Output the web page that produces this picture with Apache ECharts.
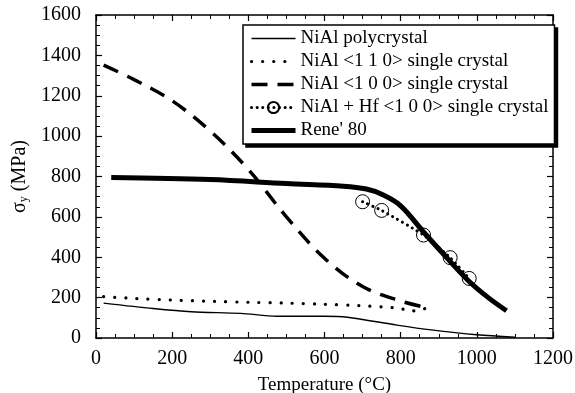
<!DOCTYPE html>
<html>
<head>
<meta charset="utf-8">
<script src="https://cdn.jsdelivr.net/npm/echarts@6/dist/echarts.min.js"></script>
<style>
  html, body { margin: 0; padding: 0; background: #fff; }
  #chart { width: 575px; height: 393px; }
</style>
</head>
<body>
<div id="chart"></div>
<script>
// Yield strength vs temperature: NiAl variants compared with Rene' 80
const seriesNames = [
  'NiAl polycrystal',
  'NiAl <1 1 0> single crystal',
  'NiAl <1 0 0> single crystal',
  'NiAl + Hf <1 0 0> single crystal',
  "Rene' 80"
];

// [temperature °C, yield stress MPa]
const polycrystal = [[20,173],[150,146],[250,130],[380,122],[475,108],[600,108],[660,103],[790,64],[880,40],[1000,16],[1100,4]];
const crystal110 = [[20,205],[100,196],[200,188],[300,182],[400,177],[500,173],[600,167],[700,160],[780,150],[830,136],[845,132],[870,152]];
const crystal100 = [[20,1352],[100,1280],[200,1175],[300,1025],[400,835],[500,600],[600,395],[700,255],[800,183],[870,150]];
const hfCrystal100 = [[700,675],[750,632],[860,510],[930,398],[980,295]];
const rene80 = [[40,795],[300,785],[500,765],[650,752],[710,738],[750,712],[800,655],[860,525],[920,400],[980,280],[1030,200],[1078,135]];

const xTicks = { min: 0, max: 1200, interval: 200 };
const yTicks = { min: 0, max: 1600, interval: 200 };

const serif = 'Liberation Serif';
const plain = v => String(v);
// legend markers hidden for series drawn without point symbols
const noMarker = { color: 'rgba(0,0,0,0)', borderWidth: 0 };

const styles = [
  { color: '#000', width: 1.4 },
  { color: '#000', width: 3.2, type: [0.1, 11], cap: 'round' },
  { color: '#000', width: 3.5, type: [16, 10] },
  { color: '#000', width: 3, type: [0.1, 5.5], cap: 'round' },
  { color: '#000', width: 5 }
];

function frameAxis(extra) {
  return Object.assign({
    type: 'value',
    axisLine: { show: true, onZero: false, lineStyle: { color: '#000', width: 1.5 } },
    axisTick: { show: true, inside: true, length: 6, lineStyle: { color: '#000', width: 1.2 } },
    minorTick: { show: true, splitNumber: 4, length: 4, lineStyle: { color: '#000', width: 1 } },
    splitLine: { show: false },
    minorSplitLine: { show: false }
  }, extra);
}

const chart = echarts.init(document.getElementById('chart'), null, { renderer: 'canvas' });

chart.setOption({
  animation: false,
  backgroundColor: '#fff',
  grid: { left: 96, right: 22, top: 15, bottom: 55, containLabel: false, outerBoundsMode: 'none' },
  xAxis: [
    frameAxis({
      position: 'bottom',
      min: xTicks.min, max: xTicks.max, interval: xTicks.interval,
      name: 'Temperature (°C)',
      nameLocation: 'middle',
      nameGap: 38,
      nameTextStyle: { fontFamily: serif, fontSize: 19, color: '#000' },
      axisLabel: { fontFamily: serif, fontSize: 20, color: '#000', margin: 11, formatter: plain }
    }),
    frameAxis({
      position: 'top',
      min: xTicks.min, max: xTicks.max, interval: xTicks.interval,
      axisLabel: { show: false }
    })
  ],
  yAxis: [
    frameAxis({
      position: 'left',
      min: yTicks.min, max: yTicks.max, interval: yTicks.interval,
      name: '{s|σ}{sub|y}{s| (MPa)}',
      nameLocation: 'middle',
      nameGap: 66,
      nameRotate: 90,
      nameTextStyle: {
        fontFamily: serif, color: '#000',
        rich: {
          s: { fontFamily: serif, fontSize: 20, color: '#000' },
          sub: { fontFamily: serif, fontSize: 12, color: '#000', verticalAlign: 'bottom', padding: [8, 0, 0, 0] }
        }
      },
      axisLabel: { fontFamily: serif, fontSize: 20, color: '#000', margin: 15, formatter: plain }
    }),
    frameAxis({
      position: 'right',
      min: yTicks.min, max: yTicks.max, interval: yTicks.interval,
      axisLabel: { show: false }
    })
  ],
  legend: {
    orient: 'vertical',
    left: 243,
    top: 25,
    itemWidth: 44,
    itemHeight: 14,
    itemGap: 4,
    padding: [4, 6, 4, 6],
    backgroundColor: '#fff',
    borderColor: '#000',
    borderWidth: 1.5,
    textStyle: { fontFamily: serif, fontSize: 19, color: '#000' },
    data: seriesNames.map((name, i) => ({ name: name, lineStyle: styles[i] }))
  },
  series: [
    {
      name: seriesNames[0], type: 'line', data: polycrystal,
      symbol: 'none', smooth: 0.3,
      lineStyle: styles[0],
      itemStyle: noMarker
    },
    {
      name: seriesNames[1], type: 'line', data: crystal110,
      symbol: 'none', smooth: 0.2,
      lineStyle: styles[1],
      itemStyle: noMarker
    },
    {
      name: seriesNames[2], type: 'line', data: crystal100,
      symbol: 'none', smooth: 0.35,
      lineStyle: styles[2],
      itemStyle: noMarker
    },
    {
      name: seriesNames[3], type: 'line', data: hfCrystal100,
      symbol: 'circle', symbolSize: 14, showSymbol: true, smooth: 0.2,
      lineStyle: styles[3],
      itemStyle: { color: 'rgba(0,0,0,0)', borderColor: '#000', borderWidth: 1 },
      z: 4
    },
    {
      name: seriesNames[4], type: 'line', data: rene80,
      symbol: 'none', smooth: 0.35,
      lineStyle: styles[4],
      itemStyle: noMarker,
      z: 2
    }
  ]
});

// Hard drop shadow on the right and bottom of the legend frame
try {
  const legendView = chart.getViewOfComponentModel(chart.getModel().getComponent('legend'));
  const g = legendView.group;
  const r = g.getBoundingRect();
  chart.setOption({
    graphic: [{
      type: 'rect', z: 3, silent: true,
      shape: { x: r.x + g.x + 3, y: r.y + g.y + 3, width: r.width, height: r.height },
      style: { fill: '#000' }
    }]
  });
} catch (e) { /* legend frame stays without shadow */ }
</script>
</body>
</html>
